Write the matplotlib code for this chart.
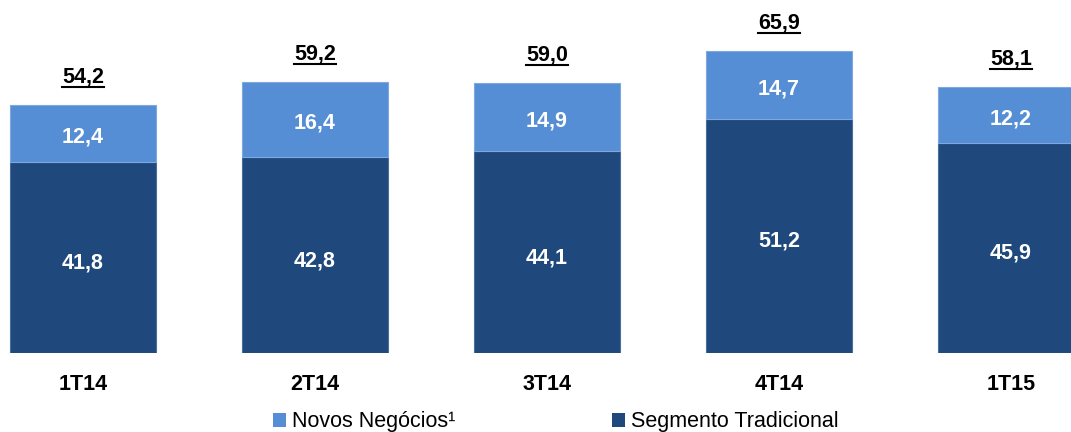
import matplotlib.pyplot as plt
from matplotlib.lines import Line2D
from matplotlib.patches import Patch

plt.rcParams['font.family'] = ['Liberation Sans', 'DejaVu Sans']

quarters = ["1T14", "2T14", "3T14", "4T14", "1T15"]
tradicional = [41.8, 42.8, 44.1, 51.2, 45.9]
novos = [12.4, 16.4, 14.9, 14.7, 12.2]
totals = [54.2, 59.2, 59.0, 65.9, 58.1]
legend_labels = ["Novos Negócios¹", "Segmento Tradicional"]

dark = "#1F497D"
light = "#558ED5"
fs = 15.5

fig = plt.figure(figsize=(10.71, 4.32), dpi=100)
ax = fig.add_axes([0, 79 / 432, 1, 1 - 79 / 432])

x = range(len(quarters))
w = 0.63
ax.bar(x, tradicional, w, color=dark, edgecolor="#4A6E9C", linewidth=0.8)
ax.bar(x, novos, w, bottom=tradicional, color=light, edgecolor="#7FA8DE", linewidth=0.8)

def fmt(v):
    return f"{v:.1f}".replace(".", ",")

for i in x:
    ax.text(i, tradicional[i] / 2 - 1.2, fmt(tradicional[i]), ha="center", va="center",
            color="white", fontsize=fs, fontweight="bold")
    ax.text(i, tradicional[i] + novos[i] / 2 - 0.8, fmt(novos[i]), ha="center", va="center",
            color="white", fontsize=fs, fontweight="bold")

tot_texts = []
for i in x:
    t = ax.text(i, totals[i] + 6.2, fmt(totals[i]), ha="center", va="center",
                color="black", fontsize=fs, fontweight="bold")
    tot_texts.append(t)

ax.set_xlim(-83 / 232, (1071 - 83) / 232)
ax.set_ylim(0, 353 / 4.576)
ax.set_xticks(list(x))
ax.set_xticklabels(quarters, fontsize=fs, fontweight="bold")
ax.tick_params(axis="x", length=0, pad=15)
ax.set_yticks([])
for s in ax.spines.values():
    s.set_visible(False)

# underline the totals
fig.canvas.draw()
r = fig.canvas.get_renderer()
for t in tot_texts:
    bb = t.get_window_extent(r)
    y0 = (bb.y0 + 0.5) / fig.bbox.height
    fig.add_artist(Line2D([bb.x0 / fig.bbox.width, bb.x1 / fig.bbox.width], [y0, y0],
                          color="black", linewidth=1.5))

handles = [Patch(facecolor=light), Patch(facecolor=dark)]
fig.legend(handles, legend_labels, loc="center", bbox_to_anchor=(556 / 1071, 10 / 432),
           ncol=2, frameon=False, fontsize=fs, handlelength=0.6, handleheight=0.6,
           handletextpad=0.3, columnspacing=7.25, borderpad=0)

fig.savefig("out.png", dpi=100)
